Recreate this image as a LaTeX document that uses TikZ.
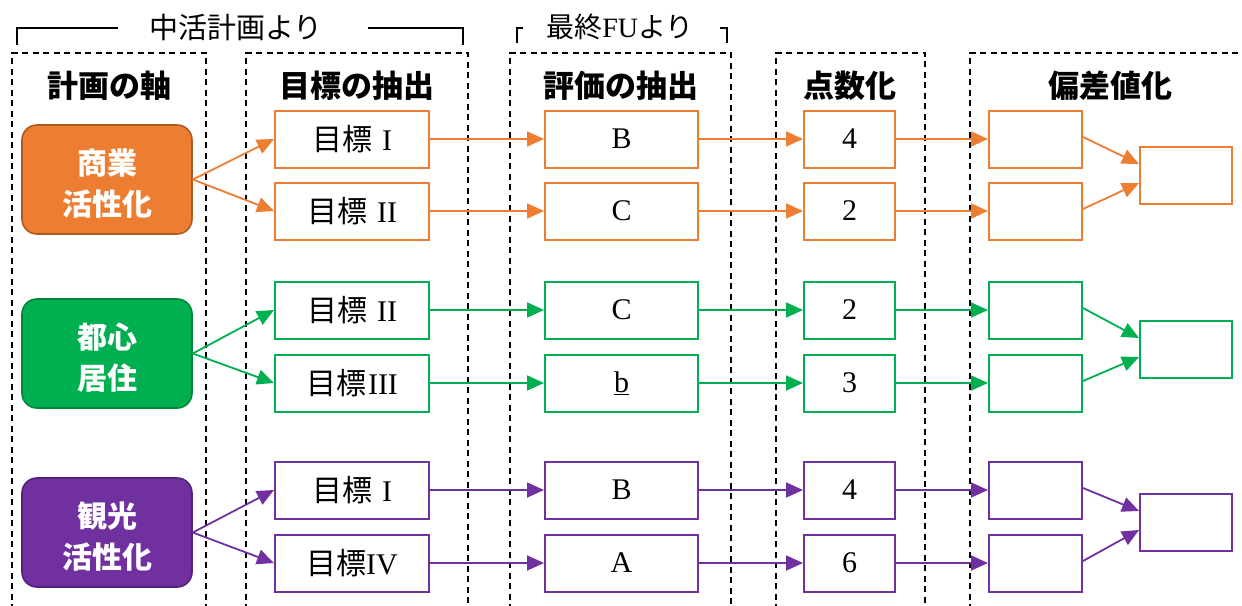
\documentclass[tikz,border=0pt]{standalone}
\usepackage{fontspec}
\setmainfont{Liberation Serif}
\newfontfamily\jp{Noto Sans CJK JP}
\usetikzlibrary{arrows.meta}
\definecolor{cor}{HTML}{ED7D31}
\definecolor{corD}{HTML}{AE5A21}
\definecolor{cgr}{HTML}{00B050}
\definecolor{cgrD}{HTML}{00863C}
\definecolor{cpu}{HTML}{7030A0}
\definecolor{cpuD}{HTML}{52237A}
\begin{document}
\begin{tikzpicture}[x=1pt,y=-1pt,
  colframe/.style={draw=black, line width=1.8pt, dash pattern=on 6pt off 4.5pt},
  bracket/.style={draw=black, line width=1.8pt},
  hdr/.style={font=\jp\bfseries\fontsize{31}{34}\selectfont},
  brtext/.style={font=\jp\fontsize{29}{32}\selectfont},
  axisnode/.style={rounded corners=15pt, line width=1.6pt, minimum width=170pt, minimum height=109pt, inner sep=0pt},
  axistext/.style={text=white, font=\jp\bfseries\fontsize{30}{41}\selectfont, align=center, inner sep=0pt},
  box/.style={draw, line width=2pt, fill=white, minimum height=57pt, inner sep=0pt,
     font=\fontsize{30}{32}\selectfont},
  arr/.style={line width=1.8pt, -{Triangle[length=17pt,width=15pt]}}
]
\useasboundingbox (0,0) rectangle (1242,605);
% column frames
\draw[colframe] (12,610) -- (12,53) -- (206,53) -- (206,610);
\draw[colframe] (246,610) -- (246,53) -- (468,53) -- (468,610);
\draw[colframe] (510,610) -- (510,53) -- (731,53) -- (731,610);
\draw[colframe] (776,610) -- (776,53) -- (925,53) -- (925,610);
\draw[colframe] (970,610) -- (970,53) -- (1242,53);
% brackets
\node[brtext] (t1) at (236,27) {中活計画より};
\draw[bracket] (17,45) -- (17,28) -- (118,28);
\draw[bracket] (368,28) -- (463,28) -- (463,45);
\node[font=\fontsize{28}{30}\selectfont] (t2) at (620,27) {{\jp 最終}FU{\jp より}};
\draw[bracket] (517,43) -- (517,28) -- (523,28);
\draw[bracket] (720,28) -- (727,28) -- (727,43);
% headers
\node[hdr] (h1) at (109,86) {計画の軸};
\node[hdr] (h2) at (357,86) {目標の抽出};
\node[hdr] (h3) at (621,86) {評価の抽出};
\node[hdr] (h4) at (850,86) {点数化};
\node[hdr] (h5) at (1110,86) {偏差値化};
% axis nodes
\node[axisnode, fill=cor, draw=corD] (s1) at (107,179.5) {};
\node[axisnode, fill=cgr, draw=cgrD] (s2) at (107,353.5) {};
\node[axisnode, fill=cpu, draw=cpuD] (s3) at (107,532.5) {};
\node[axistext] (s1t) at (107,183.5) {商業\\活性化};
\node[axistext] (s2t) at (107,357.5) {都心\\居住};
\node[axistext] (s3t) at (107,536.5) {観光\\活性化};
% rows
\foreach \i/\y/\c/\g/\e/\n in {
  1/139/cor/{{\jp 目標}\hspace{10pt}I}/B/4,
  2/211/cor/{{\jp 目標}\hspace{10pt}II}/C/2,
  3/310/cgr/{{\jp 目標}\hspace{10pt}II}/C/2,
  4/383/cgr/{{\jp 目標}\hspace{2pt}III}/{\underline{b}}/3,
  5/490/cpu/{{\jp 目標}\hspace{10pt}I}/B/4,
  6/563/cpu/{{\jp 目標}IV}/A/6}{
  \node[box, draw=\c, minimum width=154pt] (o\i) at (352,\y) {\g};
  \node[box, draw=\c, minimum width=153pt] (p\i) at (621.5,\y) {\e};
  \node[box, draw=\c, minimum width=91pt] (n\i) at (849.5,\y) {\n};
  \node[box, draw=\c, minimum width=93pt] (q\i) at (1035.5,\y) {};
  \draw[arr, draw=\c, fill=\c] (o\i) -- (p\i);
  \draw[arr, draw=\c, fill=\c] (p\i) -- (n\i);
  \draw[arr, draw=\c, fill=\c] (n\i) -- (q\i);
}
% final boxes
\node[box, draw=cor, minimum width=92pt] (f1) at (1186,175) {};
\node[box, draw=cgr, minimum width=92pt] (f2) at (1186,349) {};
\node[box, draw=cpu, minimum width=92pt] (f3) at (1186,522) {};
% axis arrows
\draw[arr, draw=cor, fill=cor] (s1.east) -- (o1.west);
\draw[arr, draw=cor, fill=cor] (s1.east) -- (o2.west);
\draw[arr, draw=cgr, fill=cgr] (s2.east) -- (o3.west);
\draw[arr, draw=cgr, fill=cgr] (s2.east) -- (o4.west);
\draw[arr, draw=cpu, fill=cpu] (s3.east) -- (o5.west);
\draw[arr, draw=cpu, fill=cpu] (s3.east) -- (o6.west);
% merge arrows
\draw[arr, draw=cor, fill=cor] ([yshift=2pt]q1.east) -- ([yshift=11pt]f1.west);
\draw[arr, draw=cor, fill=cor] ([yshift=2pt]q2.east) -- ([yshift=-8pt]f1.west);
\draw[arr, draw=cgr, fill=cgr] ([yshift=2pt]q3.east) -- ([yshift=11pt]f2.west);
\draw[arr, draw=cgr, fill=cgr] ([yshift=2pt]q4.east) -- ([yshift=-8pt]f2.west);
\draw[arr, draw=cpu, fill=cpu] ([yshift=2pt]q5.east) -- ([yshift=11pt]f3.west);
\draw[arr, draw=cpu, fill=cpu] ([yshift=2pt]q6.east) -- ([yshift=-8pt]f3.west);
\end{tikzpicture}
\end{document}
